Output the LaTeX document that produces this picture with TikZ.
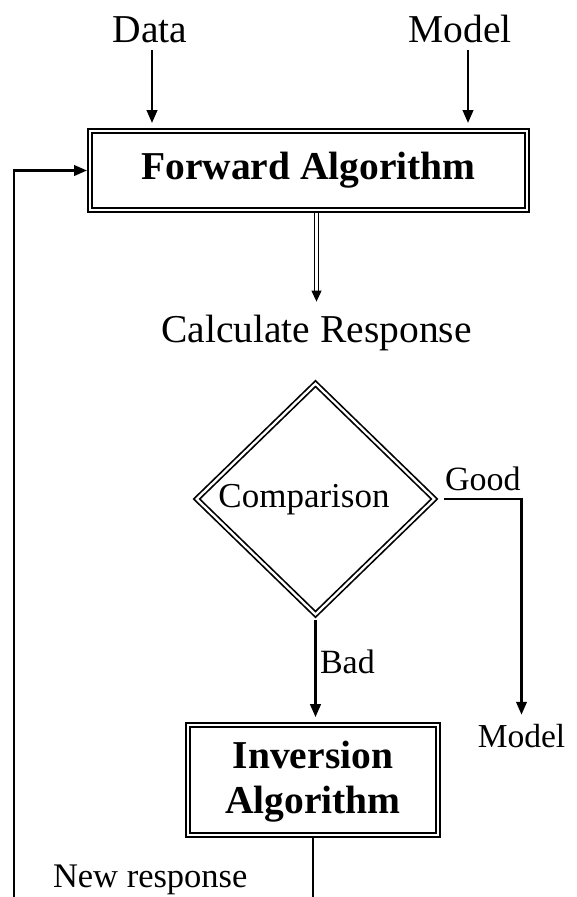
\documentclass[tikz,border=0pt]{standalone}
\usepackage{fontspec}
\setmainfont{Liberation Serif}
\usetikzlibrary{arrows.meta,shapes.geometric,calc}
\begin{document}
\begin{tikzpicture}[x=1pt,y=-1pt,
  every node/.style={inner sep=0pt, outer sep=0pt},
  big/.style={font=\fontsize{39.5}{45}\selectfont},
  bigb/.style={font=\fontsize{39.5}{45}\selectfont\bfseries},
  small/.style={font=\fontsize{34}{40}\selectfont},
  dblbox/.style={draw, double, line width=1.7pt, double distance=2.3pt, outer sep=2.85pt},
  ln/.style={line width=2.5pt},
  arr/.style={ln, -{Triangle[length=13pt,width=10.5pt]}},
  thinln/.style={line width=1pt},
]
\useasboundingbox (0,0) rectangle (576,897);
\fill[white] (0,0) rectangle (576,897);

% top inputs
\node[big, anchor=base] (data) at (150,42) {Data};
\node[big, anchor=base] (model) at (460,42) {Model};

% forward box
\node[dblbox, bigb, minimum width=437.3pt, minimum height=79.3pt] (fwd) at (308.5,170.5) {Forward Algorithm};

\draw[arr, shorten <=8pt, shorten >=5pt] ([xshift=2pt]data.south) -- ([xshift=2pt]data.south |- fwd.north);
\draw[arr, shorten <=8pt, shorten >=5pt] ([xshift=8pt]model.south) -- ([xshift=8pt]model.south |- fwd.north);

% calculate response
\node[big, anchor=base] (calc) at (316.5,342) {Calculate Response};
\draw[thinln, double, double distance=2.4pt] (calc.north |- fwd.south) -- ([yshift=22pt]calc.north);
\draw[thinln, -{Triangle[length=11pt,width=10pt]}] ([yshift=24pt]calc.north) -- ([yshift=13pt]calc.north);

% comparison diamond
\node[draw, double, line width=1.7pt, double distance=2.3pt, diamond, minimum width=241pt, minimum height=234pt, outer sep=4pt] (cmp) at (315.5,499) {};
\node[font=\fontsize{35}{40}\selectfont, anchor=base] (cmpt) at (304,507) {Comparison};

% good branch
\node[small, anchor=base west] (good) at (445,490) {Good};
\node[font=\fontsize{33.5}{40}\selectfont, anchor=base] (mb) at (521.5,747) {Model};
\draw[arr, shorten >=9pt] ([xshift=4pt]cmp.east) -| (mb.north);

% bad branch
\node[small, anchor=base west] (bad) at (320,673) {Bad};
\node[dblbox, bigb, minimum width=250pt, minimum height=110pt, align=center] (inv) at (313,780) {\rule{0pt}{30pt}Inversion\\Algorithm};
\draw[arr, shorten >=5pt] (cmp.south) -- (cmp.south |- inv.north);

% feedback loop
\coordinate (lb) at (14,897);
\draw[ln] (inv.south) -- (inv.south |- lb);
\draw[arr] (lb) |- (fwd.west);
\node[font=\fontsize{34.5}{40}\selectfont, anchor=base west] (nr) at (53,887) {New response};
\end{tikzpicture}
\end{document}
